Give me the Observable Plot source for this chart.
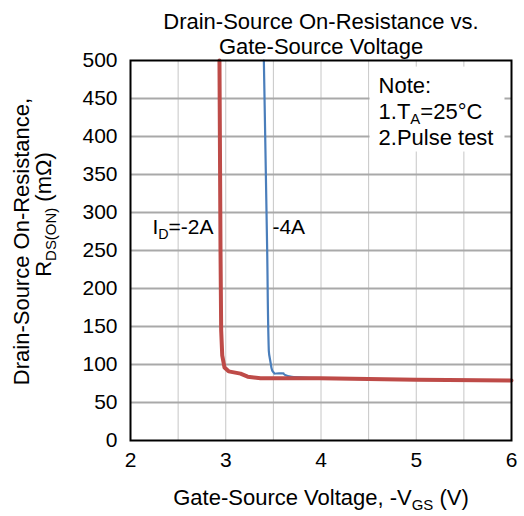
<!DOCTYPE html>
<html><head><meta charset="utf-8">
<script src="https://cdn.jsdelivr.net/npm/d3@7"></script>
<script src="https://cdn.jsdelivr.net/npm/@observablehq/plot@0.6"></script>
<style>body{margin:0;background:#fff}</style>
</head><body><div id="chart"></div>
<script>
// Series: I_D = -2A (red)
const vgs2A = [2.934, 2.945, 2.952, 2.963, 2.987, 3.03, 3.155, 3.23, 3.365, 3.99, 5.0, 6.0];
const rds2A = [500, 250, 145, 112, 96, 91, 88, 84, 82, 82, 80, 79];
// Series: I_D = -4A (blue)
const vgs4A = [3.40, 3.435, 3.452, 3.47, 3.488, 3.51, 3.606, 3.68, 4.0, 5.0, 6.0];
const rds4A = [500, 250, 118, 103, 92, 88, 88.5, 84, 82, 80, 79];
// Ticks
const xTicks = [2, 3, 4, 5, 6];
const yTicks = [0, 50, 100, 150, 200, 250, 300, 350, 400, 450, 500];
const xGrid = [2.5, 3, 3.5, 4, 4.5, 5, 5.5];
const yGrid = [50, 100, 150, 200, 250, 300, 350, 400, 450];
// Texts
const titleText = "Drain-Source On-Resistance vs.\nGate-Source Voltage";
const xTitle = "Gate-Source Voltage, -V_{GS} (V)";
const yTitle1 = "Drain-Source On-Resistance,";
const yTitle2 = "R_{DS(ON)} (mΩ)";
const noteText = "Note:\n1.T_{A}=25°C\n2.Pulse test";
const labels = [
  {x: 2.23, y: 272, text: "I_{D}=-2A"},
  {x: 3.49, y: 272, text: "-4A"}
];
const notePos = [{x: 4.604, y: 482, text: noteText}];

const s2 = vgs2A.map((v, i) => ({x: v, y: rds2A[i]}));
const s4 = vgs4A.map((v, i) => ({x: v, y: rds4A[i]}));

const FONT = "'Liberation Sans', Arial, sans-serif";
const chart = Plot.plot({
  width: 524, height: 516,
  marginLeft: 130, marginRight: 13, marginTop: 60, marginBottom: 76,
  style: {fontFamily: FONT, fontSize: "21px", color: "black", background: "white"},
  x: {domain: [2, 6]},
  y: {domain: [0, 500]},
  marks: [
    Plot.gridX(xGrid, {stroke: "#c6c6c6", strokeWidth: 1, strokeOpacity: 1}),
    Plot.gridY(yGrid, {stroke: "#a9a9a9", strokeWidth: 2, strokeOpacity: 1}),
    Plot.text(notePos, {x: "x", y: "y", text: "text", textAnchor: "start", lineAnchor: "top", fontSize: 22, lineHeight: 1.18, className: "note"}),
    Plot.line(s4, {x: "x", y: "y", stroke: "#4a7ebb", strokeWidth: 2.2, curve: "monotone-y"}),
    Plot.line(s2, {x: "x", y: "y", stroke: "#be4b48", strokeWidth: 4, curve: "linear"}),
    Plot.text(labels, {x: "x", y: "y", text: "text", textAnchor: "start", lineAnchor: "bottom", fontSize: 21}),
    Plot.frame({stroke: "black", strokeWidth: 2}),
    Plot.axisX(xTicks, {tickSize: 0, tickPadding: 12, fontSize: 21, label: null}),
    Plot.axisY(yTicks, {tickSize: 0, tickPadding: 13, fontSize: 21, label: null}),
    Plot.text([titleText], {frameAnchor: "top", lineAnchor: "bottom", dy: -7, fontSize: 22, lineHeight: 1.1}),
    Plot.text([xTitle], {frameAnchor: "bottom", lineAnchor: "middle", dy: 57, fontSize: 22}),
    Plot.text([yTitle1], {frameAnchor: "left", textAnchor: "middle", lineAnchor: "middle", rotate: -90, dx: -109, dy: -9, fontSize: 22}),
    Plot.text([yTitle2], {frameAnchor: "left", textAnchor: "middle", lineAnchor: "middle", rotate: -90, dx: -87, dy: -36, fontSize: 22})
  ]
});

// Subscript post-processing
const NS = "http://www.w3.org/2000/svg";
chart.querySelectorAll("text, tspan").forEach(node => {
  if (node.children.length) return;
  const s = node.textContent;
  if (!s.includes("_{")) return;
  node.textContent = "";
  const parts = s.split(/(_\{[^}]*\})/).filter(p => p);
  let down = false;
  parts.forEach(p => {
    const t = document.createElementNS(NS, "tspan");
    if (p.startsWith("_{")) {
      t.textContent = p.slice(2, -1);
      t.style.fontSize = "68%";
      t.setAttribute("dy", "5");
      down = true;
    } else {
      t.textContent = p;
      if (down) { t.setAttribute("dy", "-5"); down = false; }
    }
    node.appendChild(t);
  });
});

document.getElementById("chart").appendChild(chart);

// White box behind the note, sized from its text
const noteEl = chart.querySelector("g.note text") || chart.querySelector(".note text");
if (noteEl) {
  const bb = noteEl.getBBox();
  const r = document.createElementNS(NS, "rect");
  r.setAttribute("x", bb.x - 9);
  r.setAttribute("y", bb.y - 6);
  r.setAttribute("width", bb.width + 20);
  r.setAttribute("height", bb.height + 8);
  r.setAttribute("fill", "white");
  r.setAttribute("stroke", "none");
  if (noteEl.getAttribute("transform")) r.setAttribute("transform", noteEl.getAttribute("transform"));
  noteEl.parentNode.insertBefore(r, noteEl);
}
</script>
</body></html>
